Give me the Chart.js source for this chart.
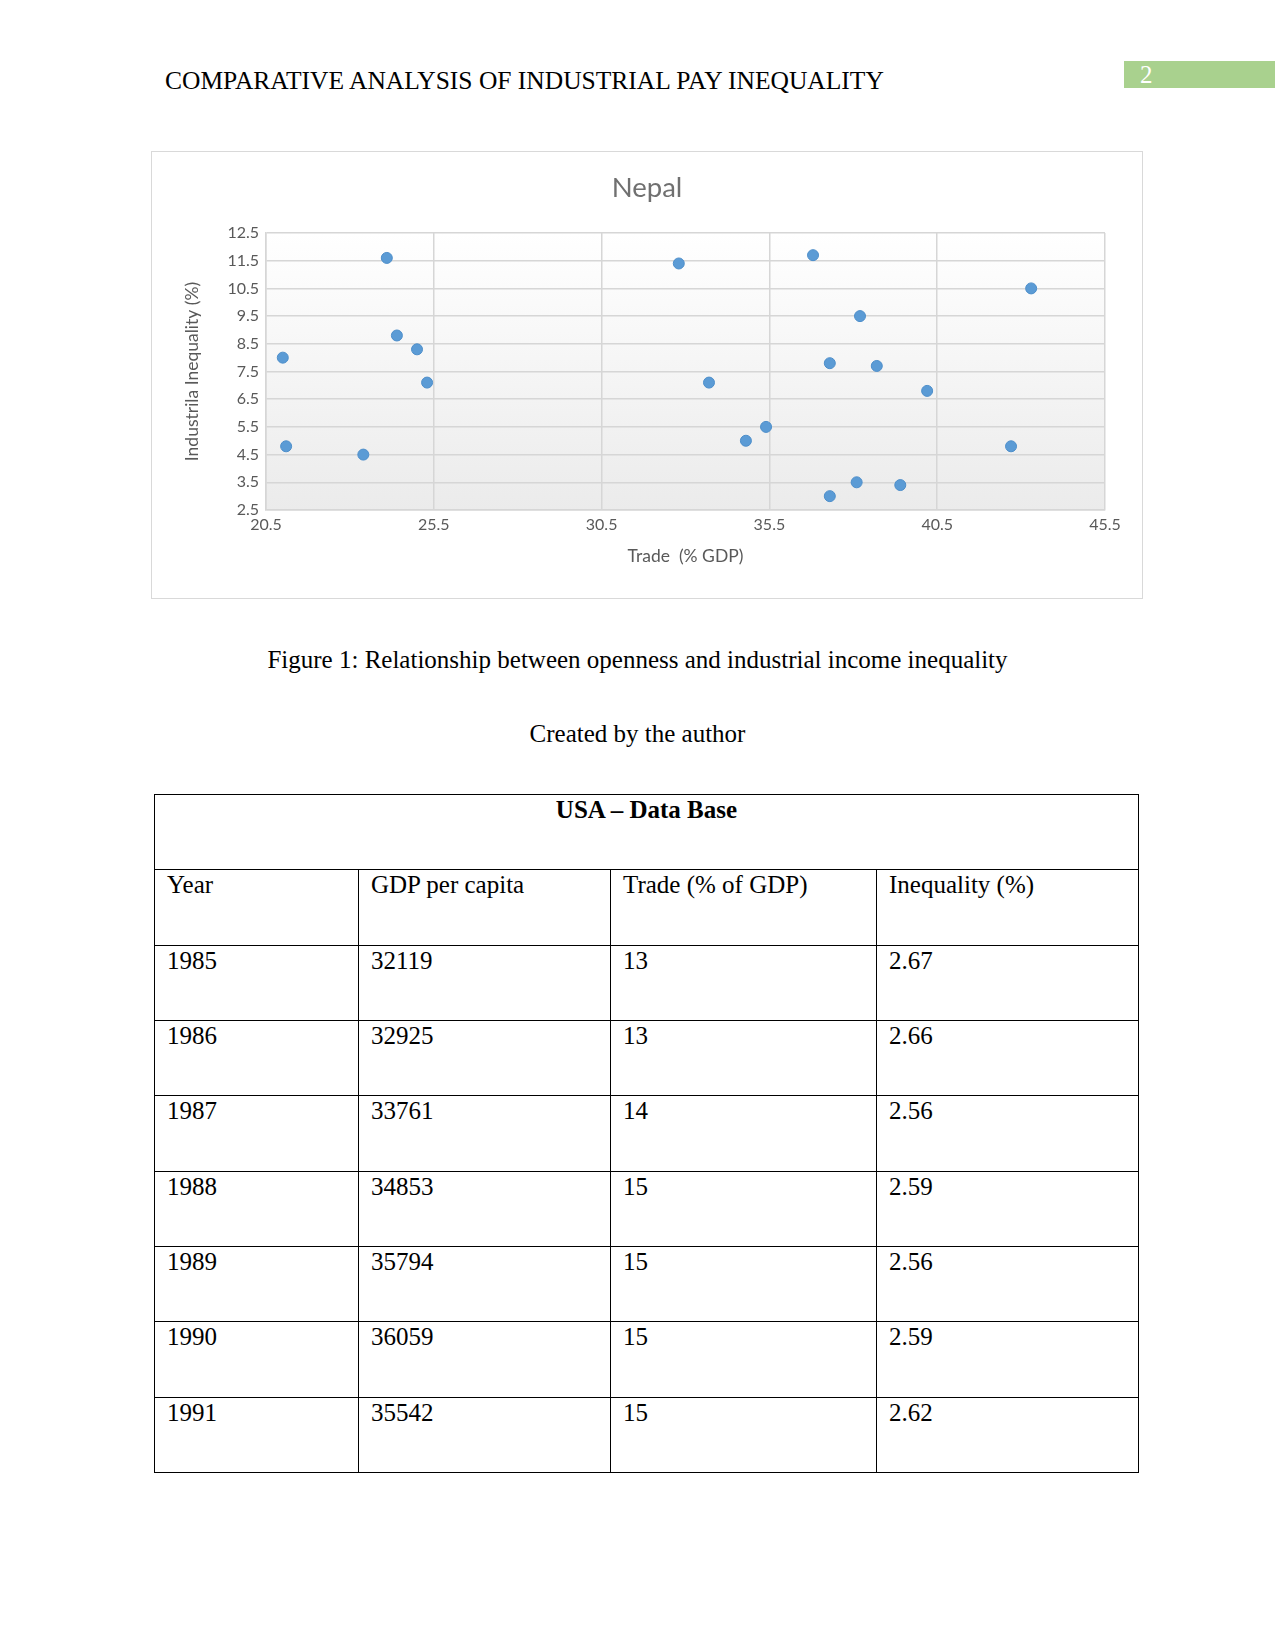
<!DOCTYPE html>
<html>
<head>
<meta charset="utf-8">
<script src="https://cdn.jsdelivr.net/npm/chart.js@4.4.1/dist/chart.umd.min.js"></script>
<style>
body { margin: 0; background: #fff; font-family: "Liberation Serif", "Times New Roman", serif; color: #000; }
.page { position: relative; width: 1275px; height: 1651px; overflow: hidden; }
.running-head { position: absolute; left: 165px; top: 66px; font-size: 25.5px; line-height: 30px; white-space: nowrap; }
.page-num { position: absolute; left: 1124px; top: 61px; width: 151px; height: 27px; background: #a9d18e; color: #fff; font-size: 25px; line-height: 27px; }
.page-num span { position: absolute; left: 16px; top: 0px; }
.chart-box { position: absolute; left: 151px; top: 151px; width: 990px; height: 446px; border: 1px solid #d9d9d9; }
.caption { position: absolute; left: 0; width: 1275px; text-align: center; font-size: 25px; line-height: 30px; }
table { position: absolute; left: 154px; top: 794px; border-collapse: collapse; font-size: 25px; }
td { border: 1px solid #000; vertical-align: top; padding: 1px 12px 0 12px; height: 75.35px; box-sizing: border-box; line-height: 28px; }
td.head { text-align: center; font-weight: bold; }
</style>
</head>
<body>
<div class="page">
  <div class="running-head">COMPARATIVE ANALYSIS OF INDUSTRIAL PAY INEQUALITY</div>
  <div class="page-num"><span>2</span></div>

  <div class="chart-box"><canvas id="nepal" width="990" height="446"></canvas></div>

  <div class="caption" style="top:645px">Figure 1: Relationship between openness and industrial income inequality</div>
  <div class="caption" style="top:719px">Created by the author</div>

  <table id="usa"></table>
</div>

<script>
// Nepal scatter: trade (% GDP) vs industrial inequality (%)
var tradeValues = [21.0, 21.1, 23.4, 24.1, 24.4, 25.0, 25.3, 32.8, 33.7, 34.8, 35.4,
                   36.8, 37.3, 37.3, 38.2, 38.1, 38.7, 39.4, 40.2, 42.7, 43.3];
var inequalityValues = [8.0, 4.8, 4.5, 11.6, 8.8, 8.3, 7.1, 11.4, 7.1, 5.0, 5.5,
                        11.7, 7.8, 3.0, 9.5, 3.5, 7.7, 3.4, 6.8, 4.8, 10.5];

// USA table
var tableColumns = ["Year", "GDP per capita", "Trade (% of GDP)", "Inequality (%)"];
var years = [1985, 1986, 1987, 1988, 1989, 1990, 1991];
var gdpPerCapita = [32119, 32925, 33761, 34853, 35794, 36059, 35542];
var tradeShare = [13, 13, 14, 15, 15, 15, 15];
var inequality = ["2.67", "2.66", "2.56", "2.59", "2.56", "2.59", "2.62"];

var points = tradeValues.map(function (x, i) {
    return { x: x, y: inequalityValues[i] };
});

var plotBackground = {
    id: "plotBackground",
    beforeDraw: function (chart) {
        var a = chart.chartArea;
        var ctx = chart.ctx;
        var g = ctx.createLinearGradient(0, a.top, 0, a.bottom);
        g.addColorStop(0, "#ffffff");
        g.addColorStop(1, "#ebebeb");
        ctx.save();
        ctx.fillStyle = g;
        ctx.fillRect(a.left, a.top, a.right - a.left, a.bottom - a.top);
        ctx.restore();
    }
};

var tickFont = { family: "Lato", size: 16 };
var axisTitleFont = { family: "Lato", size: 17.5 };
var gridColor = "#d6d6d6";

new Chart(document.getElementById("nepal"), {
    type: "scatter",
    data: {
        datasets: [{
            label: "Nepal",
            data: points,
            pointRadius: 5.5,
            pointBackgroundColor: "#5b9bd5",
            pointBorderColor: "#4e8fcb",
            pointBorderWidth: 1
        }]
    },
    options: {
        responsive: false,
        animation: false,
        layout: { padding: 0 },
        plugins: {
            legend: { display: false },
            tooltip: { enabled: false },
            title: {
                display: true,
                text: "Nepal",
                color: "#707070",
                font: { family: "Lato", size: 27.5, weight: "normal" },
                padding: { top: 20, bottom: 28 }
            }
        },
        scales: {
            x: {
                type: "linear",
                min: 20.5,
                max: 45.5,
                afterFit: function (s) { s.height = 88; },
                ticks: { stepSize: 5, color: "#595959", font: tickFont, padding: 5, maxRotation: 0 },
                grid: { color: gridColor, lineWidth: 1.5, drawTicks: false },
                border: { color: gridColor, width: 1.5 },
                title: {
                    display: true,
                    text: "Trade  (% GDP)",
                    color: "#595959",
                    font: axisTitleFont,
                    padding: { top: 0, bottom: 31 }
                }
            },
            y: {
                type: "linear",
                min: 2.5,
                max: 12.5,
                afterFit: function (s) { s.width = 114; },
                ticks: { stepSize: 1, color: "#595959", font: tickFont, padding: 7, autoSkip: false },
                grid: { color: gridColor, lineWidth: 1.5, drawTicks: false },
                border: { color: gridColor, width: 1.5 },
                title: {
                    display: true,
                    text: "Industrila Inequality (%)",
                    color: "#595959",
                    font: axisTitleFont,
                    padding: { top: 30, bottom: 0 }
                }
            },
            // empty right-hand axis only to leave the right margin inside the frame
            spacer: {
                type: "linear",
                position: "right",
                afterFit: function (s) { s.width = 37; },
                ticks: { display: false },
                grid: { display: false, drawTicks: false },
                border: { display: false }
            }
        }
    },
    plugins: [plotBackground]
});

// build the data table
var widths = [204, 252, 266, 262];
var html = '<tr><td class="head" colspan="4">USA \u2013 Data Base</td></tr><tr>';
tableColumns.forEach(function (c, i) {
    html += '<td style="width:' + widths[i] + 'px">' + c + '</td>';
});
html += '</tr>';
years.forEach(function (y, i) {
    html += '<tr><td>' + y + '</td><td>' + gdpPerCapita[i] + '</td><td>' +
        tradeShare[i] + '</td><td>' + inequality[i] + '</td></tr>';
});
document.getElementById("usa").innerHTML = html;
</script>
</body>
</html>
